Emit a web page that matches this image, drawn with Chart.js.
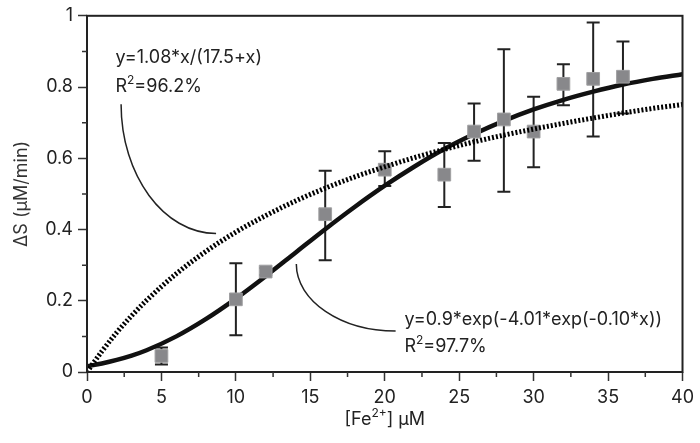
<!DOCTYPE html>
<html><head><meta charset="utf-8">
<script src="https://cdn.jsdelivr.net/npm/chart.js@4"></script>
<style>html,body{margin:0;padding:0;background:#fff;}canvas{display:block;}</style>
</head><body>
<canvas id="c" width="700" height="443"></canvas>
<script>
// Measured data: Fe2+ concentration (µM), rate ΔS (µM/min), error bar ends
const conc  = [5, 10, 12, 16, 20, 24, 26, 28, 30, 32, 34, 36];
const rate  = [0.045, 0.204, 0.282, 0.443, 0.568, 0.554, 0.675, 0.709, 0.675, 0.809, 0.823, 0.829];
const errHi = [0.069, 0.305, 0.292, 0.565, 0.620, 0.643, 0.754, 0.906, 0.773, 0.864, 0.981, 0.928];
const errLo = [0.021, 0.103, 0.272, 0.314, 0.522, 0.463, 0.593, 0.506, 0.575, 0.749, 0.661, 0.726];

// Fitted curves
const fitX  = [0, 1, 2, 3, 4, 6, 8, 10, 12, 14, 16, 18, 20, 22, 24, 26, 28, 30, 32, 34, 36, 38, 40];
const gompY = [0.016, 0.024, 0.034, 0.046, 0.061, 0.100, 0.149, 0.206, 0.269, 0.335, 0.401, 0.464, 0.523, 0.577, 0.626, 0.668, 0.705, 0.737, 0.764, 0.787, 0.807, 0.823, 0.836];
const mmY   = [0, 0.058, 0.111, 0.158, 0.201, 0.276, 0.339, 0.393, 0.439, 0.480, 0.516, 0.548, 0.576, 0.602, 0.625, 0.646, 0.665, 0.682, 0.698, 0.713, 0.727, 0.740, 0.751];

// Tick labels
const xTickLabels = ['0', '5', '10', '15', '20', '25', '30', '35', '40'];
const yTickLabels = ['0', '0.2', '0.4', '0.6', '0.8', '1'];
const xMinor = [2.5, 7.5, 12.5, 17.5, 22.5, 27.5, 32.5, 37.5];
const yMinor = [0.1, 0.3, 0.5, 0.7, 0.9];

const FONT = 'Inter, "Liberation Sans", Arial, sans-serif';
const INK = '#222';

const pts = (xs, ys) => xs.map((x, i) => ({x: x, y: ys[i]}));

function drawSupText(ctx, parts, x, y, align) {
  const big = '18px ' + FONT, small = '12px ' + FONT;
  let w = 0;
  parts.forEach(p => { ctx.font = p.sup ? small : big; w += ctx.measureText(p.t).width; });
  let cx = align === 'center' ? x - w / 2 : x;
  ctx.textAlign = 'left';
  ctx.textBaseline = 'alphabetic';
  parts.forEach(p => {
    ctx.font = p.sup ? small : big;
    ctx.fillText(p.t, cx, p.sup ? y - 8 : y);
    cx += ctx.measureText(p.t).width;
  });
}

function leader(ctx, xs, ys, x0, y0, x1, y1) {
  const a = {x: xs.getPixelForValue(x0), y: ys.getPixelForValue(y0)};
  const b = {x: xs.getPixelForValue(x1), y: ys.getPixelForValue(y1)};
  const k = 0.55;
  ctx.beginPath();
  ctx.moveTo(a.x, a.y);
  ctx.bezierCurveTo(a.x, a.y + k * (b.y - a.y), b.x - k * (b.x - a.x), b.y, b.x, b.y);
  ctx.stroke();
}

const extras = {
  id: 'extras',
  beforeDatasetsDraw(chart) {
    const ctx = chart.ctx, xs = chart.scales.x, ys = chart.scales.y;
    ctx.save();
    ctx.strokeStyle = INK;
    ctx.lineWidth = 2;
    conc.forEach((c, i) => {
      const px = xs.getPixelForValue(c);
      const t = ys.getPixelForValue(errHi[i]);
      const b = ys.getPixelForValue(errLo[i]);
      ctx.beginPath();
      ctx.moveTo(px, t); ctx.lineTo(px, b);
      ctx.moveTo(px - 6.5, t); ctx.lineTo(px + 6.5, t);
      ctx.moveTo(px - 6.5, b); ctx.lineTo(px + 6.5, b);
      ctx.stroke();
    });
    ctx.restore();
  },
  afterDatasetsDraw(chart) {
    const ctx = chart.ctx, xs = chart.scales.x, ys = chart.scales.y;
    ctx.save();
    ctx.strokeStyle = INK;
    ctx.lineWidth = 1.5;
    leader(ctx, xs, ys, 2.29, 0.752, 8.67, 0.389);
    leader(ctx, xs, ys, 14.06, 0.303, 20.73, 0.115);
    ctx.fillStyle = INK;
    const X = v => xs.getPixelForValue(v), Y = v => ys.getPixelForValue(v);
    drawSupText(ctx, [{t: 'y=1.08*x/(17.5+x)'}], X(1.91), Y(0.867), 'left');
    drawSupText(ctx, [{t: 'R'}, {t: '2', sup: true}, {t: '=96.2%'}], X(1.91), Y(0.786), 'left');
    drawSupText(ctx, [{t: 'y=0.9*exp(-4.01*exp(-0.10*x))'}], X(21.32), Y(0.1315), 'left');
    drawSupText(ctx, [{t: 'R'}, {t: '2', sup: true}, {t: '=97.7%'}], X(21.32), Y(0.055), 'left');
    ctx.restore();
  },
  afterDraw(chart) {
    const ctx = chart.ctx, xs = chart.scales.x, ys = chart.scales.y, a = chart.chartArea;
    ctx.save();
    ctx.strokeStyle = INK;
    ctx.lineWidth = 2;
    ctx.strokeRect(a.left, a.top, a.right - a.left, a.bottom - a.top);
    ctx.strokeStyle = '#333';
    ctx.lineWidth = 1.5;
    ctx.beginPath();
    xMinor.forEach(v => { const p = xs.getPixelForValue(v); ctx.moveTo(p, a.bottom); ctx.lineTo(p, a.bottom + 5); });
    yMinor.forEach(v => { const p = ys.getPixelForValue(v); ctx.moveTo(a.left, p); ctx.lineTo(a.left - 5, p); });
    ctx.stroke();
    ctx.fillStyle = INK;
    drawSupText(ctx, [{t: '[Fe'}, {t: '2+', sup: true}, {t: '] μM'}], (a.left + a.right) / 2, 425, 'center');
    ctx.restore();
  }
};

new Chart(document.getElementById('c'), {
  type: 'scatter',
  data: {
    datasets: [
      {
        label: 'ΔS',
        data: pts(conc, rate),
        pointStyle: 'rect',
        pointRadius: 9,
        backgroundColor: '#88888b',
        borderColor: '#a0a0a2',
        borderWidth: 1,
        order: 1
      },
      {
        label: 'y=1.08*x/(17.5+x)',
        data: pts(fitX, mmY),
        showLine: true,
        pointRadius: 0,
        borderColor: '#000',
        borderWidth: 5,
        borderDash: [2, 2],
        cubicInterpolationMode: 'monotone',
        order: 0
      },
      {
        label: 'y=0.9*exp(-4.01*exp(-0.10*x))',
        data: pts(fitX, gompY),
        showLine: true,
        pointRadius: 0,
        borderColor: '#111',
        borderWidth: 4.5,
        cubicInterpolationMode: 'monotone',
        order: 2
      }
    ]
  },
  options: {
    responsive: false,
    animation: false,
    events: [],
    layout: {padding: {top: 9, right: 8, left: 0, bottom: 0}, autoPadding: false},
    plugins: {legend: {display: false}, tooltip: {enabled: false}},
    scales: {
      x: {
        type: 'linear', min: 0, max: 40,
        border: {display: false},
        grid: {drawOnChartArea: false, drawTicks: true, tickLength: 9, tickWidth: 1.5, tickColor: '#333'},
        ticks: {stepSize: 5, font: {family: FONT, size: 18}, color: INK, padding: 6, maxRotation: 0,
                callback: (v, i) => xTickLabels[i]},
        afterFit: s => { s.height = 71; }
      },
      y: {
        type: 'linear', min: 0, max: 1,
        border: {display: false},
        grid: {drawOnChartArea: false, drawTicks: true, tickLength: 9, tickWidth: 1.5, tickColor: '#333'},
        ticks: {stepSize: 0.2, font: {family: FONT, size: 18}, color: INK, padding: 5,
                callback: (v, i) => yTickLabels[i]},
        title: {display: true, text: 'ΔS (μM/min)', font: {family: FONT, size: 18}, color: '#333', padding: {top: 11, bottom: 0}},
        afterFit: s => { s.width = 87; }
      }
    }
  },
  plugins: [extras]
});
</script>
</body></html>
